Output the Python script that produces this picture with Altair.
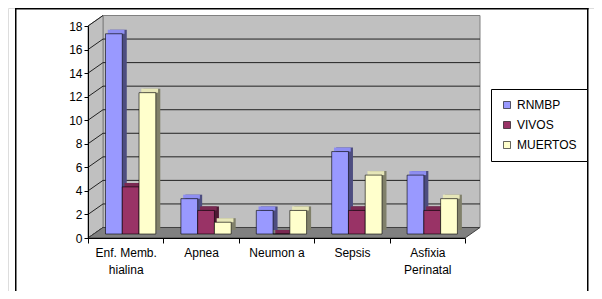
import altair as alt
import pandas as pd

# ---- data ----
categories = ["Enf. Memb.\nhialina", "Apnea", "Neumon a", "Sepsis", "Asfixia\nPerinatal"]
series = ["RNMBP", "VIVOS", "MUERTOS"]
rnmbp = [17, 3, 2, 7, 5]
vivos = [4, 2, 0, 2, 2]
muertos = [12, 1, 2, 5, 3]
y_ticks = [0, 2, 4, 6, 8, 10, 12, 14, 16, 18]

rows = []
for i, c in enumerate(categories):
    for s, vals in zip(series, [rnmbp, vivos, muertos]):
        rows.append({"cat": c, "serie": s, "valor": vals[i]})
df = pd.DataFrame(rows)
ticks_df = pd.DataFrame({"v": y_ticks})
grid_df = pd.DataFrame({"v": y_ticks[1:-1]})

# ---- styles / geometry (pixels inside a 586x283 view) ----
CW, CH = 586, 283
OX, OY = 80, 18            # origin of the plotting box
W, H = 377, 212
DX, DY = 15, 10.5          # depth of walls
BDX, BDY = 4.5, 4          # depth of bars
LIFT = 4                   # bars sit a little behind the front edge
GSTART, GWIDTH = 17.5, 50.3
FONT = "Liberation Sans"

front_colors = ["#9999FF", "#993366", "#FFFFCC"]
side_colors = ["#4D4D80", "#4D1A33", "#80806A"]
top_colors = ["#8E8EF2", "#7A2952", "#E6E6B8"]


def poly_symbol(pts):
    xs = [p[0] for p in pts]
    ys = [p[1] for p in pts]
    cx = (min(xs) + max(xs)) / 2
    cy = (min(ys) + max(ys)) / 2
    s = max(max(xs) - min(xs), max(ys) - min(ys)) / 2
    path = "M" + "L".join(f"{(x - cx) / s:.5f},{(y - cy) / s:.5f}" for x, y in pts) + "Z"
    return cx, cy, path, (2 * s) ** 2


xaxis = alt.Axis(title=None, tickBand="extent", tickSize=5, tickColor="black",
                 domainColor="black", labelFontSize=12, labelFont=FONT, labelColor="black",
                 labelPadding=4, labelExpr="split(datum.label, '\\n')", labelLineHeight=17,
                 labelAngle=0, zindex=2, labelLimit=0, offset=-(CH - OY - H))
yaxis = alt.Axis(title=None, values=y_ticks, tickSize=4, tickColor="black", domainColor="black",
                 labelFontSize=12, labelFont=FONT, labelColor="black", labelPadding=2,
                 grid=False, zindex=2, offset=-OX)
xenc = alt.X("cat:N", sort=categories,
             scale=alt.Scale(domain=categories, range=[OX, OX + W], paddingInner=0, paddingOuter=0),
             axis=xaxis)
yscale = alt.Scale(domain=[0, 18], range=[OY + H, OY], nice=False, zero=True)


def xoff(shift):
    return alt.XOffset("serie:N", sort=series,
                       scale=alt.Scale(domain=series, range=[GSTART + shift, GSTART + shift + GWIDTH],
                                       paddingInner=0, paddingOuter=0))


one = pd.DataFrame({"k": [0]})

back_wall = alt.Chart(one).mark_rect(fill="#C0C0C0", stroke="#808080", strokeWidth=1).encode(
    x=alt.value(OX + DX), x2=alt.value(OX + W + DX), y=alt.value(OY - DY), y2=alt.value(OY + H - DY))

cx, cy, p, sz = poly_symbol([(OX, OY + H), (OX, OY), (OX + DX, OY - DY), (OX + DX, OY + H - DY)])
side_wall = alt.Chart(one).mark_point(shape=p, size=sz, filled=True, fill="#C0C0C0", stroke="#808080",
                                      strokeWidth=1, opacity=1).encode(x=alt.value(cx), y=alt.value(cy))

grid = alt.Chart(grid_df).mark_rule(color="#222222", strokeWidth=1, yOffset=-DY).encode(
    y=alt.Y("v:Q", scale=yscale, axis=yaxis), x=alt.value(OX + DX), x2=alt.value(OX + W + DX))

diag = alt.Chart(ticks_df).mark_rule(color="#222222", strokeWidth=1, y2Offset=-DY).encode(
    y=alt.Y("v:Q", scale=yscale, axis=yaxis), y2=alt.Y2("v"), x=alt.value(OX), x2=alt.value(OX + DX))

cx, cy, p, sz = poly_symbol([(OX, OY + H), (OX + W, OY + H), (OX + W + DX, OY + H - DY), (OX + DX, OY + H - DY)])
floor = alt.Chart(one).mark_point(shape=p, size=sz, filled=True, fill="#808080", stroke="#404040",
                                  strokeWidth=1, opacity=1).encode(x=alt.value(cx), y=alt.value(cy))

sides = alt.Chart(df).mark_bar(yOffset=-(LIFT + BDY), y2Offset=-(LIFT + 2), strokeWidth=0).encode(
    x=xenc, xOffset=xoff(BDX),
    y=alt.Y("valor:Q", scale=yscale, axis=yaxis),
    color=alt.Color("serie:N", sort=series, scale=alt.Scale(domain=series, range=side_colors), legend=None))

tops = alt.Chart(df).mark_bar(yOffset=-LIFT, y2Offset=-(LIFT + BDY), strokeWidth=0).encode(
    x=xenc, xOffset=xoff(BDX / 2),
    y=alt.Y("valor:Q", scale=yscale, axis=yaxis), y2=alt.Y2("valor"),
    color=alt.Color("serie:N", sort=series, scale=alt.Scale(domain=series, range=top_colors), legend=None))

fronts = alt.Chart(df).mark_bar(yOffset=-LIFT, y2Offset=-LIFT, stroke="black", strokeWidth=0.6).encode(
    x=xenc, xOffset=xoff(0),
    y=alt.Y("valor:Q", scale=yscale, axis=yaxis),
    color=alt.Color("serie:N", sort=series, scale=alt.Scale(domain=series, range=front_colors),
                    legend=alt.Legend(orient="none", legendX=483, legendY=81, title=None,
                                      strokeColor="black", fillColor="white", padding=10,
                                      symbolType="square", symbolSize=49, symbolStrokeColor="black",
                                      symbolStrokeWidth=0.6, symbolOpacity=1, labelFontSize=12,
                                      labelFont=FONT, labelColor="black", rowPadding=8,
                                      labelOffset=4, cornerRadius=0)))

# outer frame as thin filled bands (left, right, top)
frame_l = alt.Chart(one).mark_rect(fill="#000000", strokeWidth=0).encode(
    x=alt.value(7), x2=alt.value(8.5), y=alt.value(0), y2=alt.value(CH))
frame_r = alt.Chart(one).mark_rect(fill="#000000", strokeWidth=0).encode(
    x=alt.value(579), x2=alt.value(580.5), y=alt.value(0), y2=alt.value(CH))
frame_t = alt.Chart(one).mark_rect(fill="#000000", strokeWidth=0).encode(
    x=alt.value(7), x2=alt.value(580.5), y=alt.value(0), y2=alt.value(1.5))

chart = alt.layer(back_wall, side_wall, grid, diag, floor, sides, tops, fronts,
                  frame_l, frame_r, frame_t).resolve_scale(
    color="independent", xOffset="independent"
).properties(
    width=CW, height=CH,
    autosize=alt.AutoSizeParams(type="none"),
    padding=0,
).configure_view(stroke=None).configure(background="white")

chart.save("out.html", embed_options={"renderer": "svg", "actions": False})
